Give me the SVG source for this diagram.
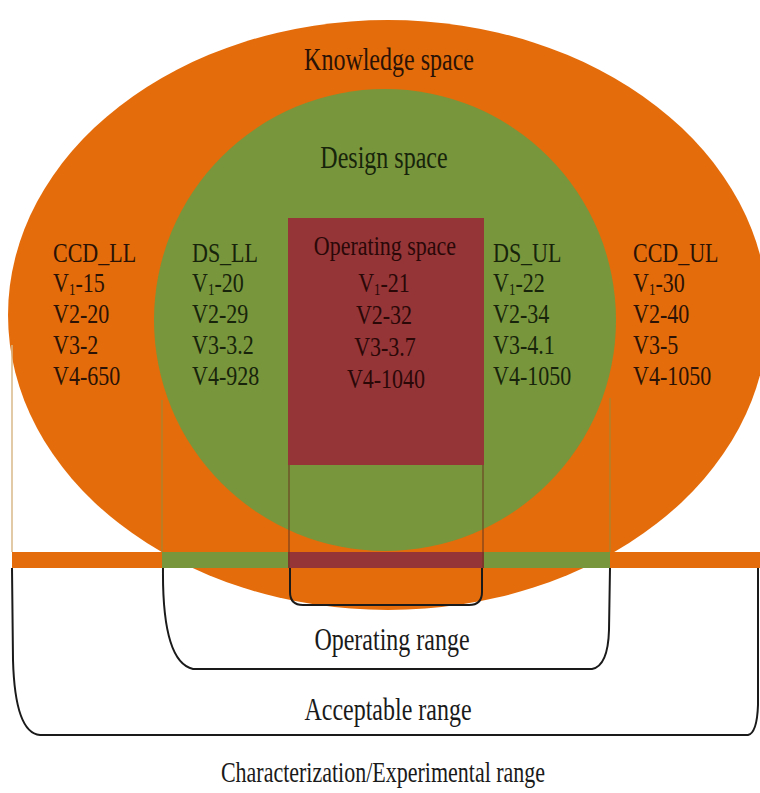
<svg xmlns="http://www.w3.org/2000/svg" width="760" height="793" viewBox="0 0 760 793">
<style>
.t{font-family:"Liberation Serif","Times New Roman",serif;fill:#2a1206}
.big{font-size:24px}
.val{font-size:22px}
.g{fill:#17240b}
.r{fill:#2a0808}
.k{fill:#1a1a1a}
.m{text-anchor:middle}
.sub{font-size:13px}
.br{fill:none;stroke:#1a1a1a;stroke-width:2}
.faint{fill:none;stroke:#9a8a3a;stroke-width:1.5;opacity:.7}
.tan{fill:none;stroke:#d9b98a;stroke-width:1.5}
</style>
<rect width="760" height="793" fill="#ffffff"/>
<g id="knowledge-space">
<ellipse cx="388" cy="315" rx="380" ry="295" fill="#E46C0A"/>
<text class="t big m" transform="translate(389,70) scale(1,1.3)">Knowledge space</text>
</g>
<g id="design-space">
<circle cx="385" cy="320" r="231" fill="#78963C"/>
<text class="t big m g" transform="translate(384,168) scale(1,1.3)">Design space</text>
</g>
<g id="operating-space">
<rect x="288" y="218" width="196" height="247" fill="#953537"/>
<text class="t val m r" transform="translate(385,255) scale(1,1.25)">Operating space</text>
<text class="t val m r" transform="translate(384,292) scale(1,1.25)">V<tspan class="sub" dy="2">1</tspan><tspan dy="-2">-21</tspan></text>
<text class="t val m r" transform="translate(384,324) scale(1,1.25)">V2-32</text>
<text class="t val m r" transform="translate(385,356) scale(1,1.25)">V3-3.7</text>
<text class="t val m r" transform="translate(386,388) scale(1,1.25)">V4-1040</text>
</g>
<g id="ccd-ll">
<text class="t val" transform="translate(53,262) scale(1,1.25)">CCD_LL</text>
<text class="t val" transform="translate(53,292) scale(1,1.25)">V<tspan class="sub" dy="2">1</tspan><tspan dy="-2">-15</tspan></text>
<text class="t val" transform="translate(53,323) scale(1,1.25)">V2-20</text>
<text class="t val" transform="translate(53,354) scale(1,1.25)">V3-2</text>
<text class="t val" transform="translate(53,385) scale(1,1.25)">V4-650</text>
</g>
<g id="ds-ll">
<text class="t val g" transform="translate(192,262) scale(1,1.25)">DS_LL</text>
<text class="t val g" transform="translate(192,292) scale(1,1.25)">V<tspan class="sub" dy="2">1</tspan><tspan dy="-2">-20</tspan></text>
<text class="t val g" transform="translate(192,323) scale(1,1.25)">V2-29</text>
<text class="t val g" transform="translate(192,354) scale(1,1.25)">V3-3.2</text>
<text class="t val g" transform="translate(192,385) scale(1,1.25)">V4-928</text>
</g>
<g id="ds-ul">
<text class="t val g" transform="translate(493,262) scale(1,1.25)">DS_UL</text>
<text class="t val g" transform="translate(493,292) scale(1,1.25)">V<tspan class="sub" dy="2">1</tspan><tspan dy="-2">-22</tspan></text>
<text class="t val g" transform="translate(493,323) scale(1,1.25)">V2-34</text>
<text class="t val g" transform="translate(493,354) scale(1,1.25)">V3-4.1</text>
<text class="t val g" transform="translate(493,385) scale(1,1.25)">V4-1050</text>
</g>
<g id="ccd-ul">
<text class="t val" transform="translate(633,262) scale(1,1.25)">CCD_UL</text>
<text class="t val" transform="translate(633,292) scale(1,1.25)">V<tspan class="sub" dy="2">1</tspan><tspan dy="-2">-30</tspan></text>
<text class="t val" transform="translate(633,323) scale(1,1.25)">V2-40</text>
<text class="t val" transform="translate(633,354) scale(1,1.25)">V3-5</text>
<text class="t val" transform="translate(633,385) scale(1,1.25)">V4-1050</text>
</g>
<g id="range-band">
<rect x="12" y="552" width="748" height="16" fill="#E46C0A"/>
<rect x="162" y="552" width="448" height="16" fill="#78963C"/>
<rect x="288" y="552" width="196" height="16" fill="#953537"/>
</g>
<g id="connectors">
<path class="tan" d="M12,345 V552"/>
<path class="faint" d="M162,400 V552 M610,398 V552"/>
<path class="faint" d="M289,465 V568 M483,465 V568" style="stroke:#6a3a20"/>
<path class="br" d="M290,568 V592 Q290,605 303,605 H469 Q482,605 482,592 V568"/>
<path class="br" d="M163,568 Q162,662 193,669 H592 Q608,666 609,630 L610,568"/>
<path class="br" d="M12,568 L13,660 Q15,733 40,735 H748 Q757,733 758,705 V568"/>
</g>
<g id="operating-range">
<text class="t big m k" transform="translate(392,650) scale(1,1.3)">Operating range</text>
</g>
<g id="acceptable-range">
<text class="t big m k" transform="translate(388,720) scale(1,1.3)">Acceptable range</text>
</g>
<g id="characterization-range">
<text class="t val m k" transform="translate(383,782) scale(1,1.3)">Characterization/Experimental range</text>
</g>
</svg>
